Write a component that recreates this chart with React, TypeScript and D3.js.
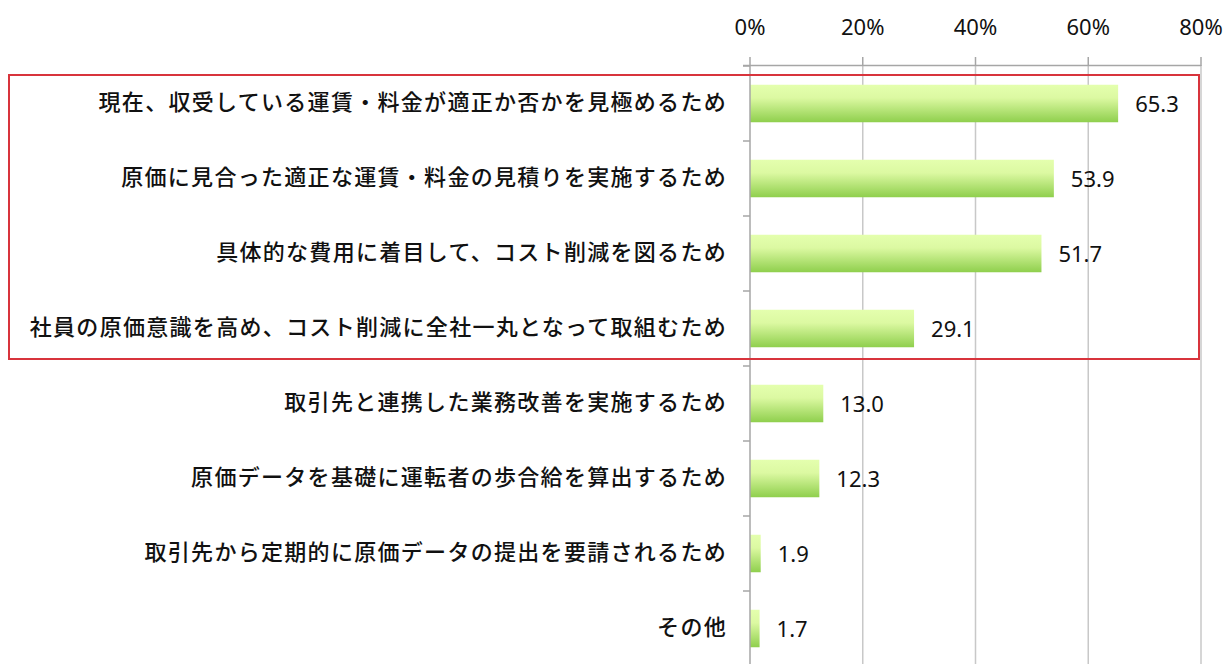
import React from "react";
import * as d3 from "d3";

const categories = [
  "現在、収受している運賃・料金が適正か否かを見極めるため",
  "原価に見合った適正な運賃・料金の見積りを実施するため",
  "具体的な費用に着目して、コスト削減を図るため",
  "社員の原価意識を高め、コスト削減に全社一丸となって取組むため",
  "取引先と連携した業務改善を実施するため",
  "原価データを基礎に運転者の歩合給を算出するため",
  "取引先から定期的に原価データの提出を要請されるため",
  "その他",
];
const values = [65.3, 53.9, 51.7, 29.1, 13.0, 12.3, 1.9, 1.7];
const tickValues = [0, 20, 40, 60, 80];
const highlighted = 4; // first four categories boxed

export default function App() {
  const W = 1230, H = 664;
  const left = 750, right = 1201, top = 66, bottom = 666;
  const x = d3.scaleLinear().domain([0, 80]).range([left, right]);
  const y = d3.scaleBand<string>().domain(categories).range([top, bottom]).paddingInner(0.5).paddingOuter(0.25);
  const step = y.step();
  const boundaries = d3.range(categories.length + 1).map((i) => top + i * step);
  const boxBottom = top + highlighted * step;
  const numFont = "'Noto Sans', 'Liberation Sans', sans-serif";
  const jpFont = "'Noto Sans CJK JP', sans-serif";
  return (
    <svg width={W} height={H} style={{ position: "absolute", left: 0, top: 0, background: "#fff" }}>
      <defs>
        <linearGradient id="barGrad" x1="0" y1="0" x2="0" y2="1">
          <stop offset="0%" stopColor="#e4ffae" />
          <stop offset="35%" stopColor="#dcf9a2" />
          <stop offset="100%" stopColor="#8fcf4d" />
        </linearGradient>
      </defs>
      {/* gridlines */}
      {tickValues.slice(1).map((t) => (
        <line key={"g" + t} x1={x(t)} x2={x(t)} y1={65} y2={H} stroke="#c8c8c8" strokeWidth={1.5} />
      ))}
      {/* top value axis */}
      <line x1={743} x2={x(80)} y1={65.5} y2={65.5} stroke="#a6a6a6" strokeWidth={1.5} />
      {tickValues.map((t) => (
        <g key={"t" + t}>
          <line x1={x(t)} x2={x(t)} y1={57} y2={66} stroke="#a6a6a6" strokeWidth={1.5} />
          <text x={x(t)} y={35} textAnchor="middle" fontFamily={numFont} fontSize={22} fill="#111">
            {t}%
          </text>
        </g>
      ))}
      {/* bars */}
      {categories.map((c, i) => (
        <rect key={"b" + i} x={x(0)} y={y(c)!} width={x(values[i]) - x(0)} height={y.bandwidth()} fill="url(#barGrad)" />
      ))}
      {/* category axis */}
      <line x1={750} x2={750} y1={65} y2={H} stroke="#a6a6a6" strokeWidth={1.5} />
      {boundaries.map((b, i) => (
        <line key={"ct" + i} x1={743} x2={750} y1={b} y2={b} stroke="#a6a6a6" strokeWidth={1.5} />
      ))}
      {/* value labels */}
      {categories.map((c, i) => (
        <text key={"v" + i} x={x(values[i]) + 17} y={y(c)! + y.bandwidth() / 2 + 8} fontFamily={numFont} fontSize={22} fill="#111">
          {values[i].toFixed(1)}
        </text>
      ))}
      {/* category labels */}
      {categories.map((c, i) => (
        <text key={"c" + i} x={727} y={y(c)! + y.bandwidth() / 2 + 6} textAnchor="end" fontFamily={jpFont} fontSize={22} fontWeight={500} fill="#111" style={{ letterSpacing: "1.3px" }}>
          {c}
        </text>
      ))}
      {/* highlight box */}
      <rect x={9} y={75} width={1190} height={boxBottom - 75 - 7} fill="none" stroke="#d8343c" strokeWidth={2} />
    </svg>
  );
}
